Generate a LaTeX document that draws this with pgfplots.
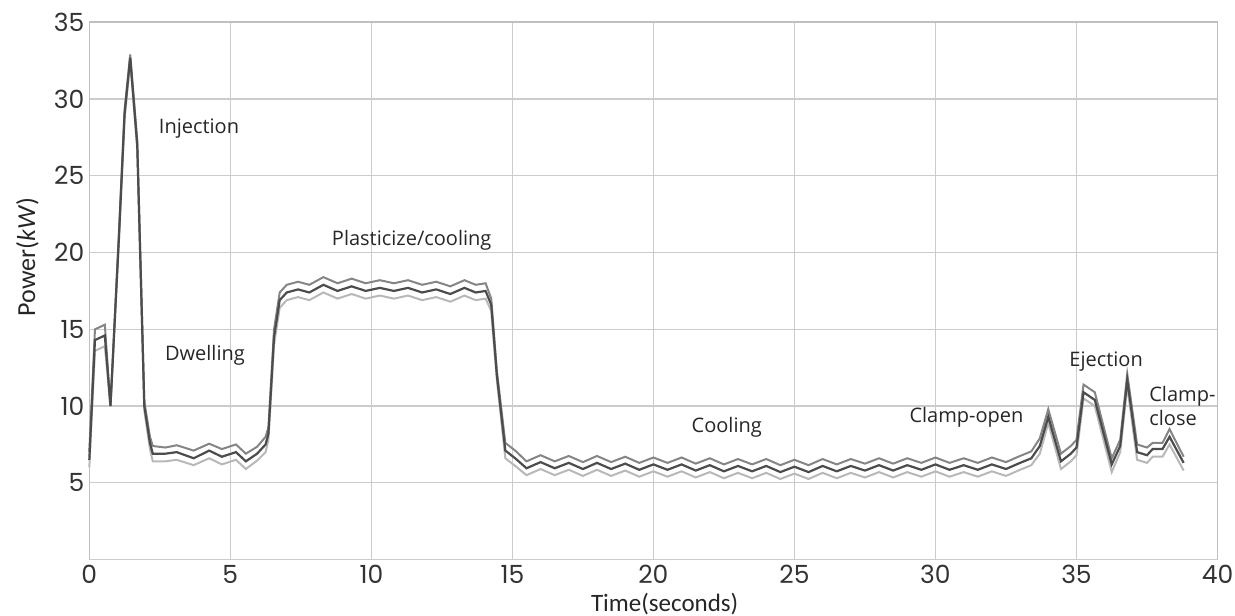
\documentclass[border=0pt]{standalone}
\usepackage{fontspec}
\setmainfont{Open Sans}
\newfontfamily\tickfont{Poppins}
\newfontfamily\labfont{Carlito}
\usepackage{pgfplots}
\usepackage{pgfplotstable}
\pgfplotsset{compat=1.18}

\pgfplotstableread{
t     hi    mid   lo
0.00  7.0   6.5   6.0
0.20  15.0  14.3  13.6
0.55  15.3  14.6  13.9
0.75  10.0  10.0  10.0
1.05  21.3  21.0  20.7
1.25  29.3  29.0  28.7
1.45  32.9  32.7  32.4
1.70  27.3  27.0  26.7
1.95  10.3  10.0  9.7
2.15  8.0   7.6   7.2
2.25  7.4   6.9   6.4
2.70  7.3   6.9   6.4
3.10  7.45  7.0   6.5
3.70  7.1   6.6   6.15
4.25  7.55  7.1   6.6
4.70  7.2   6.7   6.2
5.20  7.5   7.0   6.5
5.55  6.9   6.4   5.9
5.95  7.35  6.9   6.45
6.25  8.0   7.5   7.0
6.35  8.6   8.2   7.8
6.55  15.0  14.5  14.0
6.75  17.4  16.9  16.4
7.00  17.9  17.4  16.9
7.40  18.1  17.6  17.1
7.80  17.9  17.4  16.9
8.30  18.4  17.9  17.4
8.80  18.0  17.5  17.0
9.30  18.3  17.8  17.3
9.80  18.0  17.5  17.0
10.30 18.2  17.7  17.2
10.80 18.0  17.5  17.0
11.30 18.2  17.7  17.2
11.80 17.9  17.4  16.9
12.30 18.1  17.6  17.1
12.80 17.8  17.3  16.8
13.30 18.2  17.7  17.2
13.70 17.9  17.4  16.9
14.05 18.0  17.5  17.0
14.25 17.0  16.6  16.2
14.45 12.3  12.0  11.7
14.75 7.6   7.1   6.6
15.10 7.1   6.6   6.1
15.50 6.4   5.95  5.5
16.00 6.8   6.35  5.9
16.50 6.4   5.95  5.5
17.00 6.75  6.3   5.85
17.50 6.35  5.9   5.45
18.00 6.75  6.3   5.85
18.50 6.35  5.9   5.45
19.00 6.7   6.25  5.8
19.50 6.3   5.85  5.4
20.00 6.65  6.2   5.75
20.50 6.3   5.85  5.4
21.00 6.65  6.2   5.75
21.50 6.25  5.8   5.35
22.00 6.6   6.15  5.7
22.50 6.2   5.75  5.3
23.00 6.55  6.1   5.65
23.50 6.2   5.75  5.3
24.00 6.55  6.1   5.65
24.50 6.15  5.7   5.25
25.00 6.5   6.05  5.6
25.50 6.15  5.7   5.25
26.00 6.55  6.1   5.65
26.50 6.2   5.75  5.3
27.00 6.55  6.1   5.65
27.50 6.25  5.8   5.35
28.00 6.6   6.15  5.7
28.50 6.25  5.8   5.35
29.00 6.6   6.15  5.7
29.50 6.3   5.85  5.4
30.00 6.65  6.2   5.75
30.50 6.3   5.85  5.4
31.00 6.6   6.15  5.7
31.50 6.3   5.85  5.4
32.00 6.65  6.2   5.75
32.50 6.35  5.9   5.45
33.00 6.75  6.3   5.85
33.40 7.05  6.6   6.15
33.70 7.9   7.4   6.9
34.00 9.8   9.3   8.9
34.45 6.9   6.4   5.9
34.80 7.4   6.9   6.4
35.00 7.8   7.3   6.8
35.25 11.4  10.9  10.5
35.65 10.9  10.4  10.0
36.25 6.6   6.2   5.7
36.55 7.8   7.4   7.0
36.80 12.1  11.7  11.3
37.15 7.5   7.0   6.5
37.50 7.3   6.8   6.3
37.70 7.6   7.2   6.7
38.05 7.6   7.2   6.7
38.30 8.5   8.0   7.5
38.80 6.7   6.3   5.8
}\powertable

\begin{document}
\begin{tikzpicture}
\useasboundingbox (-44.65pt,-27.75pt) rectangle (572.75pt,279.75pt);
\begin{axis}[
  scale only axis,
  width=564pt, height=268.6pt,
  xmin=0, xmax=40, ymin=0, ymax=35,
  xtick={0,5,...,40},
  ytick={5,10,...,35},
  extra y ticks={0}, extra y tick labels={},
  grid=major,
  major grid style={draw=black!20, line width=0.6pt},
  axis line style={draw=black!25, line width=0.8pt},
  major tick length=0pt,
  /pgf/number format/assume math mode=true,
  tick label style={font=\tickfont\fontsize{12.5}{14}\selectfont, text=black!80},
  xticklabel style={inner sep=1.5pt, yshift=-1pt},
  yticklabel style={xshift=1pt},
  every axis x label/.style={at={(axis description cs:0.51,0)}, yshift=-25.8pt, anchor=base, font=\labfont\fontsize{12.5}{14}\selectfont, text=black!85},
  every axis y label/.style={at={(axis description cs:0,0.563)}, xshift=-31pt, rotate=90, anchor=center, font=\labfont\fontsize{13}{15}\selectfont, text=black!85},
  xlabel={Time(seconds)},
  ylabel={Power(\textit{kW})},
  clip=false,
]
\addplot[black!28, line width=1pt] table[x=t, y=lo] {\powertable};
\addplot[black!48, line width=1pt] table[x=t, y=hi] {\powertable};
\addplot[black!70, line width=1.1pt] table[x=t, y=mid] {\powertable};

\begin{scope}[every node/.style={font=\fontsize{10}{12}\selectfont, text=black!85}]
\node at (axis cs:3.89,28.1) {Injection};
\node at (axis cs:4.1,13.3) {Dwelling};
\node at (axis cs:11.43,20.8) {Plasticize/cooling};
\node at (axis cs:22.6,8.65) {Cooling};
\node at (axis cs:31.1,9.3) {Clamp-open};
\node at (axis cs:36.05,12.9) {Ejection};
\node[anchor=west, align=left, inner sep=0pt] at (axis cs:37.57,10.0) {Clamp-\\close};
\end{scope}
\end{axis}
\end{tikzpicture}
\end{document}
